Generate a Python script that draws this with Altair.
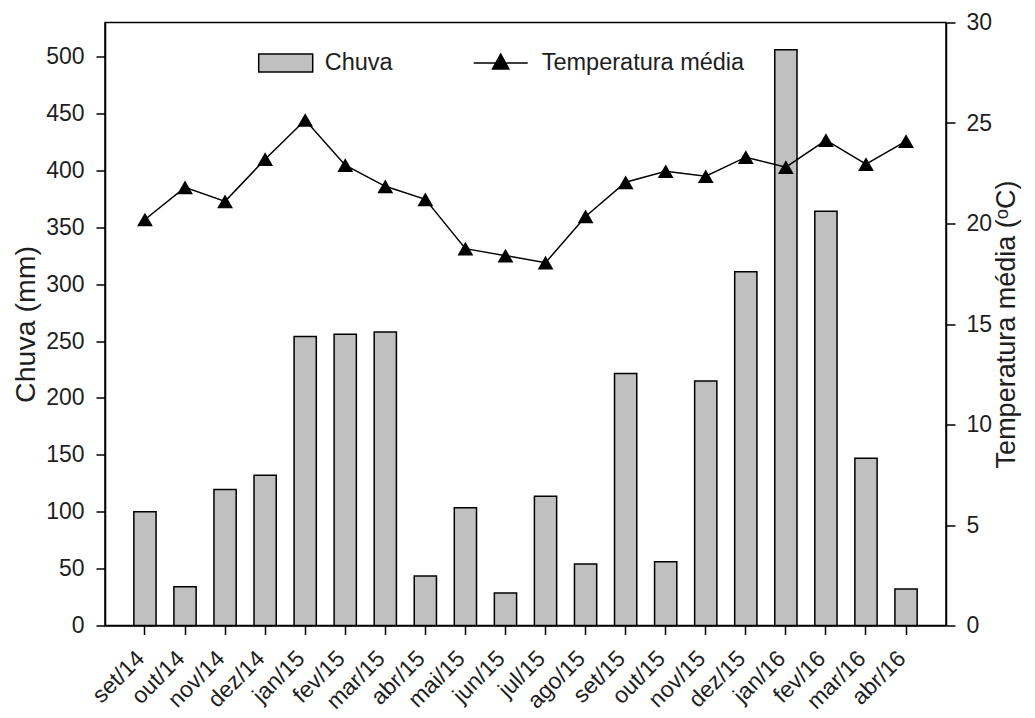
import altair as alt
import pandas as pd

meses = ["set/14", "out/14", "nov/14", "dez/14", "jan/15", "fev/15", "mar/15", "abr/15",
         "mai/15", "jun/15", "jul/15", "ago/15", "set/15", "out/15", "nov/15", "dez/15",
         "jan/16", "fev/16", "mar/16", "abr/16"]
chuva = [100, 34, 119.5, 132, 254, 256, 258, 43.5, 103.5, 28.5, 113.5, 54, 221.5, 56,
         215, 311, 506, 364, 147, 32]
temperatura = [20.2, 21.8, 21.1, 23.2, 25.15, 22.9, 21.85, 21.2, 18.75, 18.4, 18.05, 20.35,
               22.05, 22.6, 22.35, 23.3, 22.8, 24.15, 22.95, 24.1]

df = pd.DataFrame({
    "mes": meses,
    "chuva": chuva,
    "temp": temperatura,
    "s1": ["Chuva"] * len(meses),
    "s2": ["Temperatura média"] * len(meses),
})

FONT = "Liberation Sans"
TXT = "#1e1e1e"

x = alt.X("mes:N", sort=meses, title=None,
          scale=alt.Scale(paddingInner=0.445, paddingOuter=0.72),
          axis=alt.Axis(labelAngle=315, labelAlign="right", labelBaseline="middle",
                        labelPadding=20, labelOffset=-4, labelFontSize=23))

bars = alt.Chart(df).mark_bar(stroke="black", strokeWidth=1.5).encode(
    x=x,
    y=alt.Y("chuva:Q", title="Chuva (mm)",
            scale=alt.Scale(domain=[0, 530], nice=False),
            axis=alt.Axis(values=list(range(0, 501, 50)), orient="left",
                          labelFontSize=23, titleFontSize=28.5, titlePadding=5,
                          labelPadding=12)),
    fill=alt.Fill("s1:N", scale=alt.Scale(domain=["Chuva"], range=["#c0c0c0"]),
                  legend=alt.Legend(title=None, orient="none", legendX=152.7, legendY=12.5,
                                    symbolType="M-1,-0.33H1V0.33H-1Z", symbolSize=2916,
                                    symbolStrokeColor="black", symbolStrokeWidth=1.5,
                                    labelFontSize=23.5, labelOffset=11, padding=0)),
)

yr = alt.Y("temp:Q", title="Temperatura média (ᵒC)",
           scale=alt.Scale(domain=[0, 30], nice=False),
           axis=alt.Axis(values=list(range(0, 31, 5)), orient="right",
                         labelFontSize=23, titleFontSize=27, titlePadding=2,
                         labelPadding=11, titleAngle=270, titleBaseline="top"))

line = alt.Chart(df).mark_line(strokeWidth=1.5).encode(
    x=x,
    y=yr,
    stroke=alt.Stroke("s2:N", scale=alt.Scale(domain=["Temperatura média"], range=["black"]),
                      legend=alt.Legend(title=None, orient="none", legendX=367.7, legendY=12.5,
                                        symbolType="M-1,0H1M-0.3,0.22L0,-0.33L0.3,0.22Z",
                                        symbolSize=2916, symbolFillColor="black",
                                        symbolStrokeWidth=1.5,
                                        labelFontSize=23.5, labelOffset=13, padding=0)),
)

pts = alt.Chart(df).mark_point(shape="triangle-up", filled=True, size=250,
                               color="black", opacity=1).encode(
    x=x,
    y=yr,
)

right = alt.layer(line, pts)

chart = alt.layer(bars, right).resolve_scale(y="independent").properties(
    width=841, height=603,
    autosize=alt.AutoSizeParams(type="none"),
    padding={"left": 97, "top": 14.5, "right": 80, "bottom": 92},
).configure(font=FONT).configure_view(
    stroke="black", strokeWidth=1.5
).configure_axis(
    grid=False, domainColor="black", domainWidth=1.5, tickColor="black",
    tickWidth=1.5, tickSize=9, labelColor=TXT, titleColor=TXT,
    labelFont=FONT, titleFont=FONT, titleFontWeight="normal",
).configure_legend(
    labelFont=FONT, labelColor=TXT, labelLimit=400,
)

chart.save("out.html", embed_options={"renderer": "svg", "actions": False})
